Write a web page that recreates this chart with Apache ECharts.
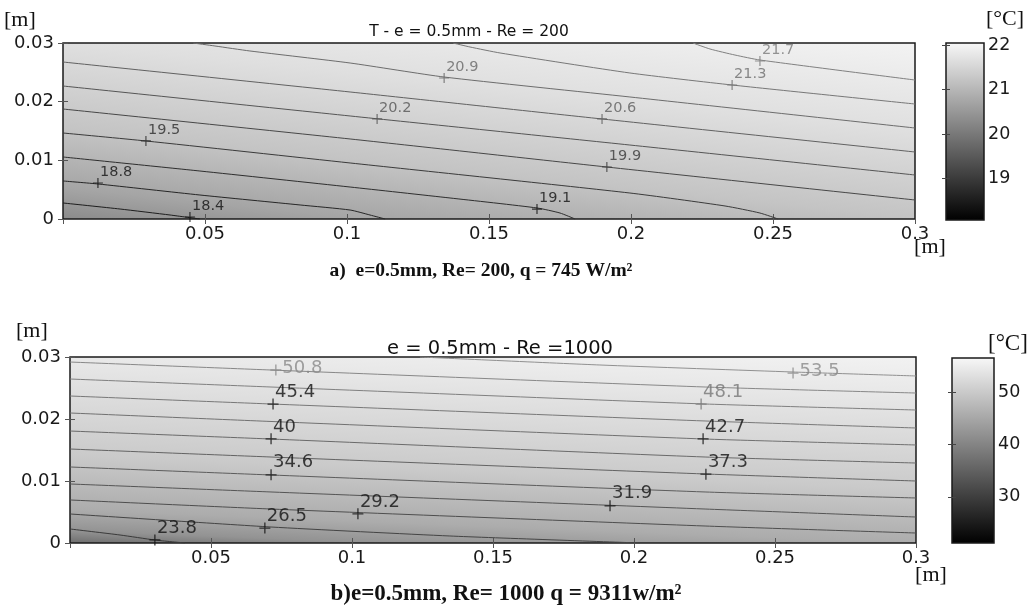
<!DOCTYPE html>
<html><head><meta charset="utf-8">
<script src="https://cdn.jsdelivr.net/npm/echarts@6/dist/echarts.min.js"></script>
<style>html,body{margin:0;padding:0;background:#fff}#c{width:1032px;height:608px}</style>
</head><body><div id="c"></div>
<script>
// ---------- DATA ----------
// Plot a) e=0.5mm, Re=200 : contour lines [x(m), y(m)]
const topLevels = [18.4, 18.77, 19.13, 19.5, 19.87, 20.23, 20.6, 20.97, 21.33, 21.7];
const topLines = [
  [[0,0.00273],[0.0201,0.0017],[0.0377,0.00068],[0.0482,0]],
  [[0,0.00648],[0.0123,0.00597],[0.0482,0.00409],[0.0835,0.00239],[0.1011,0.00153],[0.1081,0.00068],[0.1134,0]],
  [[0,0.01057],[0.0482,0.00818],[0.1011,0.00545],[0.1363,0.00358],[0.1669,0.00188],[0.175,0.00102],[0.1803,0]],
  [[0,0.01466],[0.0292,0.0133],[0.1011,0.00955],[0.1996,0.00443],[0.2331,0.00222],[0.2454,0.00102],[0.2518,0]],
  [[0,0.01875],[0.1011,0.01364],[0.1915,0.00886],[0.3,0.00324]],
  [[0,0.02267],[0.1011,0.01756],[0.1996,0.01261],[0.3,0.0075]],
  [[0,0.02676],[0.1011,0.02165],[0.1898,0.01705],[0.3,0.01142]],
  [[0.0458,0.03],[0.0535,0.02949],[0.0658,0.02864],[0.1011,0.02659],[0.1342,0.0242],[0.1996,0.0208],[0.3,0.01551]],
  [[0.1373,0.03],[0.1433,0.02932],[0.1539,0.0283],[0.1996,0.02489],[0.2356,0.02284],[0.3,0.0196]],
  [[0.2218,0.03],[0.2278,0.02898],[0.2366,0.02795],[0.2454,0.0271],[0.3,0.02369]]
];
const topLineColors = ['#1e1e1e','#262626','#2e2e2e','#3a3a3a','#474747','#555555','#616161','#6c6c6c','#777777','#808080'];
const topLabelText = ['18.4','18.8','19.1','19.5','19.9','20.2','20.6','20.9','21.3','21.7'];
const topLabelPos = [[0.0447,0.00034],[0.0123,0.00614],[0.1669,0.0017],[0.0292,0.0133],[0.1915,0.00886],
                     [0.1106,0.01705],[0.1898,0.01705],[0.1342,0.02403],[0.2356,0.02284],[0.2454,0.02693]];
const topLabelColors = ['#111','#111','#111','#2a2a2a','#3a3a3a','#555','#5e5e5e','#666','#6e6e6e','#7a7a7a'];

// Plot b) e=0.5mm, Re=1000
const botLevels = [23.8, 26.5, 29.2, 31.9, 34.6, 37.3, 40, 42.7, 45.4, 48.1, 50.8, 53.5];
const botLines = [
  [[0,0.00226],[0.01773,0.00129],[0.03014,0.00048],[0.04078,0]],
  [[0,0.00468],[0.07128,0.00258],[0.1347,0.00113],[0.2021,0]],
  [[0,0.00694],[0.07128,0.00548],[0.2252,0.00274],[0.3,0.00161]],
  [[0,0.00952],[0.07128,0.00823],[0.2252,0.00548],[0.3,0.00419]],
  [[0,0.01226],[0.07128,0.01097],[0.2252,0.00823],[0.3,0.00726]],
  [[0,0.01516],[0.07128,0.01387],[0.2252,0.01113],[0.3,0.01]],
  [[0,0.01806],[0.07128,0.01677],[0.2252,0.01387],[0.3,0.0129]],
  [[0,0.02097],[0.07128,0.0196],[0.2252,0.01677],[0.3,0.01581]],
  [[0,0.02371],[0.07128,0.02242],[0.2252,0.01968],[0.3,0.01855]],
  [[0,0.02645],[0.07128,0.02516],[0.2252,0.02242],[0.3,0.02145]],
  [[0,0.02919],[0.07128,0.0279],[0.2252,0.02516],[0.3,0.02419]],
  [[0.1241,0.03],[0.1879,0.02871],[0.2564,0.02758],[0.3,0.02694]]
];
const botLineColors = ['#3a3a3a','#444','#4e4e4e','#555','#5c5c5c','#636363','#6a6a6a','#717171','#787878','#808080','#888','#909090'];
const botLabelText = ['23.8','26.5','29.2','31.9','34.6','37.3','40','42.7','45.4','48.1','50.8','53.5'];
const botLabelPos = [[0.0301,0.0005],[0.0691,0.0024],[0.1021,0.0047],[0.1915,0.006],[0.0713,0.011],[0.2255,0.0111],
                     [0.0713,0.0168],[0.2245,0.0168],[0.072,0.0224],[0.2238,0.0224],[0.073,0.0279],[0.2564,0.0274]];
const botLabelColors = ['#111','#111','#111','#111','#111','#111','#111','#111','#111','#777','#888','#8a8a8a'];
const botLabelSide = [0,0,0,0,0,0,0,0,0,0,1,1]; // 1 = text to the right of '+'

// axes / colour bars
const xTicks = [0, 0.05, 0.1, 0.15, 0.2, 0.25, 0.3];
const yTicks = [0, 0.01, 0.02, 0.03];
const cbTopRange = [18.07, 22.05];
const cbTopTicks = [19, 20, 21, 22];
const cbBotRange = [21.2, 56.5];
const cbBotTicks = [30, 40, 50];

// ---------- CHART ----------
const SANS = 'DejaVu Sans';
const SERIF = 'Liberation Serif';
const chart = echarts.init(document.getElementById('c'), null, {renderer: 'canvas'});

const gradTop = {type:'linear', x:0, y:1, x2:0.0324, y2:-0.492, colorStops:[
  {offset:0, color:'#8a8a8a'},{offset:0.12, color:'#a5a5a5'},{offset:0.34, color:'#c4c4c4'},
  {offset:0.66, color:'#dfdfdf'},{offset:1, color:'#f3f3f3'}]};
const gradBot = {type:'linear', x:0, y:1, x2:0.0104, y2:-0.18, colorStops:[
  {offset:0, color:'#6c6c6c'},{offset:0.06, color:'#939393'},{offset:0.154, color:'#acacac'},
  {offset:0.4, color:'#cacaca'},{offset:0.846, color:'#e9e9e9'},{offset:1, color:'#f2f2f2'}]};
const cbGrad = {type:'linear', x:0, y:0, x2:0, y2:1, colorStops:[
  {offset:0, color:'#f8f8f8'},{offset:1, color:'#000000'}]};

const fmt = v => String(+(+v).toFixed(3));
function mainX(grid, pos, labels) {
  return {type:'value', gridIndex:grid, position:pos, min:xTicks[0], max:xTicks[xTicks.length-1], interval:0.05,
    axisLine:{show:false}, splitLine:{show:false},
    axisTick:{show:true, inside:true, length:5, lineStyle:{color:'#555', width:1}},
    axisLabel:{show:labels, showMinLabel:false, margin:6, fontFamily:SANS, fontSize:18, color:'#1a1a1a', formatter:fmt}};
}
function mainY(grid, pos, labels) {
  return {type:'value', gridIndex:grid, position:pos, min:yTicks[0], max:yTicks[yTicks.length-1], interval:0.01,
    axisLine:{show:false}, splitLine:{show:false},
    axisTick:{show:true, inside:true, length:5, lineStyle:{color:'#555', width:1}},
    axisLabel:{show:labels, margin:9, fontFamily:SANS, fontSize:18, color:'#1a1a1a', formatter:fmt}};
}
function cbY(grid, pos, range, ticks, labels) {
  return {type:'value', gridIndex:grid, position:pos, min:range[0], max:range[1],
    axisLine:{show:false}, splitLine:{show:false},
    axisTick:{show:true, inside:true, length:4, customValues:ticks, lineStyle:{color:'#444', width:1}},
    axisLabel:{show:labels, customValues:ticks, margin:4, fontFamily:SANS, fontSize:17.5, color:'#1a1a1a'}};
}
function hiddenX(grid) {
  return {type:'value', gridIndex:grid, min:0, max:1, show:false};
}

const series = [];
topLines.forEach((pts, i) => series.push({
  type:'line', name:'T'+topLevels[i], xAxisIndex:0, yAxisIndex:0, data:pts, smooth:0.2,
  showSymbol:false, silent:true, lineStyle:{color:topLineColors[i], width:1}, z:3}));
series.push({
  type:'scatter', xAxisIndex:0, yAxisIndex:0, silent:true, z:5,
  symbol:'path://M4.4,0H5.6V4.4H10V5.6H5.6V10H4.4V5.6H0V4.4H4.4Z', symbolSize:10,
  data: topLabelPos.map((p, i) => ({value:p, name:topLabelText[i], itemStyle:{color:topLabelColors[i]},
    label:{color:topLabelColors[i]}})),
  label:{show:true, formatter:'{b}', position:[7, 2], align:'left', verticalAlign:'bottom',
    fontFamily:SANS, fontSize:14.5}
});
botLines.forEach((pts, i) => series.push({
  type:'line', name:'B'+botLevels[i], xAxisIndex:2, yAxisIndex:2, data:pts, smooth:0.2,
  showSymbol:false, silent:true, lineStyle:{color:botLineColors[i], width:1}, z:3}));
series.push({
  type:'scatter', xAxisIndex:2, yAxisIndex:2, silent:true, z:5,
  symbol:'path://M4.4,0H5.6V4.4H10V5.6H5.6V10H4.4V5.6H0V4.4H4.4Z', symbolSize:11,
  data: botLabelPos.map((p, i) => ({value:p, name:botLabelText[i], itemStyle:{color:botLabelColors[i]},
    label: botLabelSide[i] ? {color:botLabelColors[i], position:'right', distance:1, align:'left', verticalAlign:'middle', offset:[0,-2]}
                           : {color:botLabelColors[i]}})),
  label:{show:true, formatter:'{b}', position:[7.5, 2.5], align:'left', verticalAlign:'bottom',
    fontFamily:SANS, fontSize:18}
});
series.push({type:'scatter', xAxisIndex:4, yAxisIndex:4, data:[], silent:true});
series.push({type:'scatter', xAxisIndex:5, yAxisIndex:6, data:[], silent:true});

function txt(x, y, s, font, size, weight, align, color) {
  return {type:'text', x:x, y:y, silent:true, z:100,
    style:{text:s, fontFamily:font, fontSize:size, fontWeight:weight||'normal', fill:color||'#111',
      align:align||'left', verticalAlign:'middle'}};
}

chart.setOption({
  animation:false,
  backgroundColor:'#ffffff',
  grid:[
    {left:63, top:43, width:852, height:176, show:true, backgroundColor:gradTop, borderColor:'#1a1a1a', borderWidth:1.5},
    {left:70, top:357, width:846, height:186, show:true, backgroundColor:gradBot, borderColor:'#1a1a1a', borderWidth:1.5},
    {left:946, top:43, width:38, height:177, show:true, backgroundColor:cbGrad, borderColor:'#1a1a1a', borderWidth:1.5},
    {left:952, top:358, width:42, height:185, show:true, backgroundColor:cbGrad, borderColor:'#1a1a1a', borderWidth:1.5}
  ],
  xAxis:[mainX(0,'bottom',true), mainX(0,'top',false), mainX(1,'bottom',true), mainX(1,'top',false), hiddenX(2), hiddenX(3)],
  yAxis:[mainY(0,'left',true), mainY(0,'right',false), mainY(1,'left',true), mainY(1,'right',false),
         cbY(2,'right',cbTopRange,cbTopTicks,true), cbY(2,'left',cbTopRange,cbTopTicks,false),
         cbY(3,'right',cbBotRange,cbBotTicks,true), cbY(3,'left',cbBotRange,cbBotTicks,false)],
  series: series,
  graphic:[
    txt(4, 20, '[m]', SERIF, 22),
    txt(986, 19, '[°C]', SERIF, 22),
    txt(930, 247, '[m]', SERIF, 22, 'normal', 'center'),
    txt(469, 32, 'T - e = 0.5mm - Re = 200', SANS, 15.5, 'normal', 'center'),
    txt(16, 331, '[m]', SERIF, 22),
    txt(988, 344, '[°C]', SERIF, 23),
    txt(931, 575, '[m]', SERIF, 22, 'normal', 'center'),
    txt(500, 349, 'e = 0.5mm - Re =1000', SANS, 19.5, 'normal', 'center'),
    txt(481, 271, 'a)  e=0.5mm, Re= 200, q = 745 W/m²', SERIF, 19.5, 'bold', 'center'),
    txt(506, 594, 'b)e=0.5mm, Re= 1000 q = 9311w/m²', SERIF, 23, 'bold', 'center')
  ]
});
</script></body></html>
